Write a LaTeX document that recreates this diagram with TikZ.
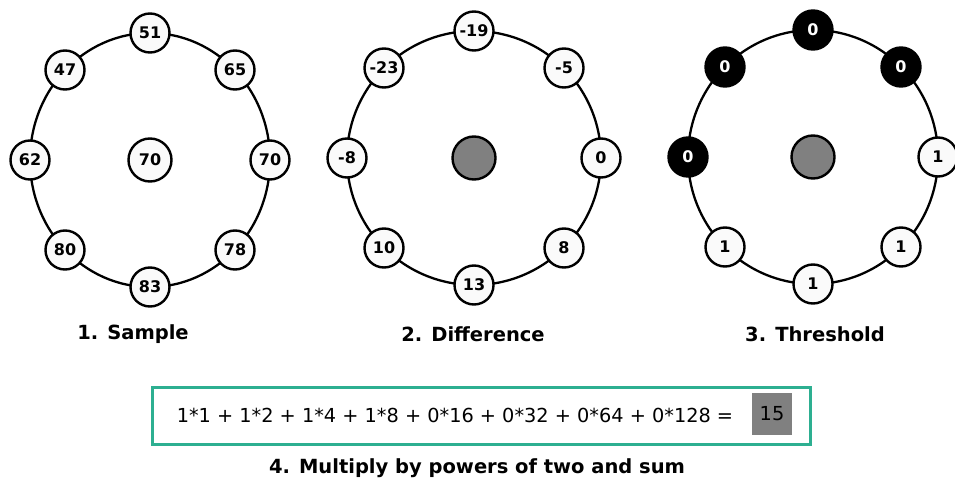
\documentclass[tikz,border=0pt]{standalone}
\usepackage{fontspec}
\setmainfont{DejaVu Sans}
\definecolor{tealbox}{RGB}{45,175,145}
\definecolor{midgray}{RGB}{128,128,128}
\begin{document}
\begin{tikzpicture}[x=1pt,y=-1pt,
  ring/.style={draw=black,line width=2.3pt},
  pix/.style={circle,draw=black,line width=2.4pt,fill=gray!4,minimum size=39pt,inner sep=0pt,
    font=\fontsize{16}{16}\selectfont\bfseries},
  dark/.style={pix,fill=black,text=white},
  ctr/.style={circle,draw=black,line width=2.4pt,minimum size=43pt,inner sep=0pt,fill=gray!4,
    font=\fontsize{16}{16}\selectfont\bfseries},
  ctrgray/.style={ctr,fill=midgray},
  captxt/.style={font=\fontsize{19.5}{20}\selectfont\bfseries,inner sep=0pt},
  sumtxt/.style={font=\fontsize{19.3}{20}\selectfont,inner sep=0pt}]
\useasboundingbox (0,0) rectangle (955,484);
\fill[white] (0,0) rectangle (955,484);
% ---------- panel 1 ----------
\draw[ring] (150,160) ellipse [x radius=120,y radius=127];
\node[ctr] (a0) at (150,160) {70};
\node[pix] (a1) at (150,33) {51};
\node[pix] (a2) at (235,70) {65};
\node[pix] (a3) at (270,160) {70};
\node[pix] (a4) at (235,250) {78};
\node[pix] (a5) at (150,287) {83};
\node[pix] (a6) at (65,250) {80};
\node[pix] (a7) at (30,160) {62};
\node[pix] (a8) at (65,70) {47};
\node[captxt] (l1) at (133,334) {1. Sample};
% ---------- panel 2 ----------
\draw[ring] (474,158) ellipse [x radius=127,y radius=127];
\node[ctrgray] (b0) at (474,158) {};
\node[pix] (b1) at (474,31) {-19};
\node[pix] (b2) at (564,68) {-5};
\node[pix] (b3) at (601,158) {0};
\node[pix] (b4) at (564,248) {8};
\node[pix] (b5) at (474,285) {13};
\node[pix] (b6) at (384,248) {10};
\node[pix] (b7) at (347,158) {-8};
\node[pix] (b8) at (384,68) {-23};
\node[captxt] (l2) at (473,334) {2. Difference};
% ---------- panel 3 ----------
\draw[ring] (813,157) ellipse [x radius=125,y radius=127];
\node[ctrgray] (c0) at (813,157) {};
\node[dark] (c1) at (813,30) {0};
\node[dark] (c2) at (901,67) {0};
\node[pix] (c3) at (938,157) {1};
\node[pix] (c4) at (901,247) {1};
\node[pix] (c5) at (813,284) {1};
\node[pix] (c6) at (725,247) {1};
\node[dark] (c7) at (688,157) {0};
\node[dark] (c8) at (725,67) {0};
\node[captxt] (l3) at (815,334) {3. Threshold};
% ---------- step 4 ----------
\node[draw=tealbox,line width=3pt,minimum width=658pt,minimum height=57pt,inner sep=0pt] (box) at (481,415.5) {};
\node[sumtxt] (sum) at (455,415) {1*1 + 1*2 + 1*4 + 1*8 + 0*16 + 0*32 + 0*64 + 0*128 =};
\node[fill=midgray,minimum width=40pt,minimum height=42pt,inner sep=0pt,font=\fontsize{19.3}{20}\selectfont] (res) at (772,414) {15};
\node[captxt] (l4) at (477,468) {4. Multiply by powers of two and sum};
\end{tikzpicture}
\end{document}
